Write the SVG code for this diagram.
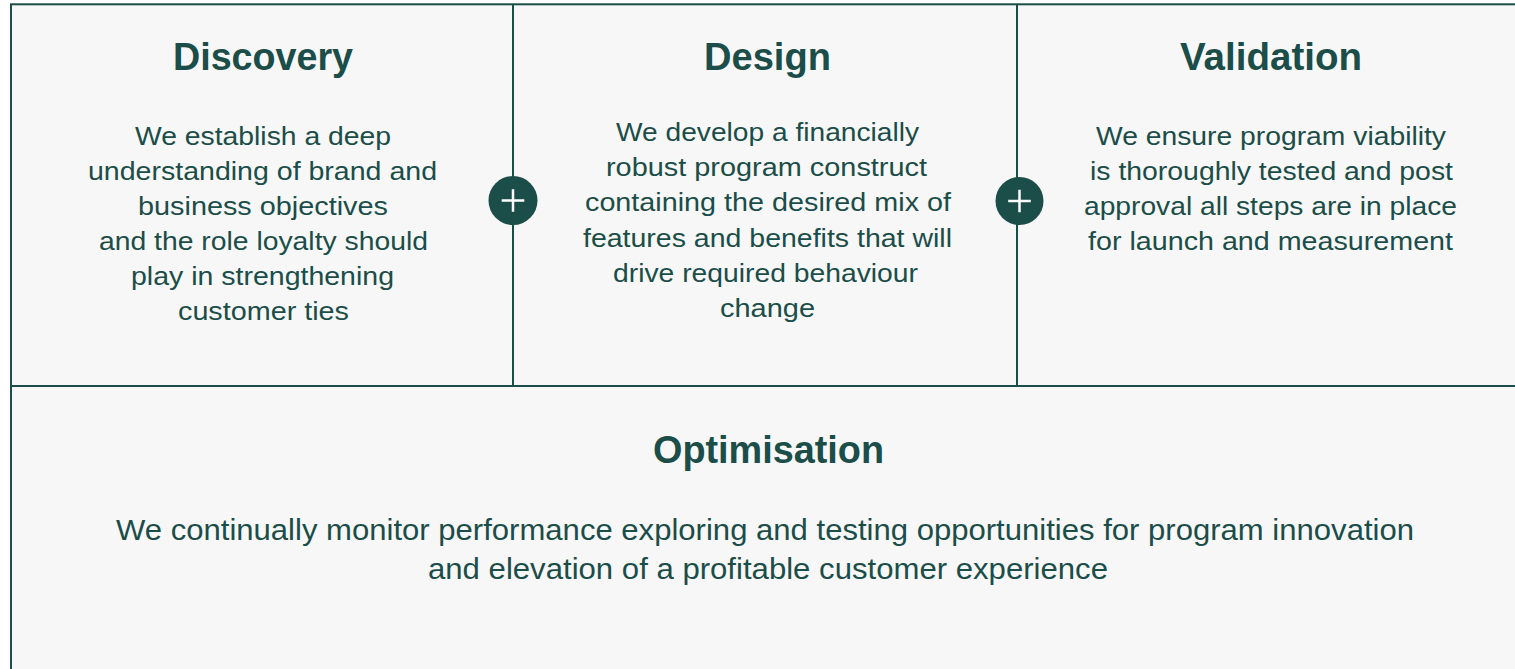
<svg xmlns="http://www.w3.org/2000/svg" width="1515" height="669" viewBox="0 0 1515 669">
  <style>
    .frame { fill: #f7f7f7; stroke: #1b4d49; stroke-width: 2; }
    .line { stroke: #1b4d49; stroke-width: 2; fill: none; }
    .head { font-family: "Liberation Sans", Arial, sans-serif; font-weight: bold; font-size: 38px; fill: #1b4d49; text-anchor: middle; }
    .body { font-family: "Liberation Sans", Arial, sans-serif; font-size: 26px; fill: #1b4d49; text-anchor: middle; }
    .body2 { font-family: "Liberation Sans", Arial, sans-serif; font-size: 30px; fill: #1b4d49; text-anchor: middle; }
    .dot { fill: #1b4d49; }
    .plus { stroke: #ffffff; stroke-width: 2.5; fill: none; }
  </style>
  <rect x="0" y="0" width="1515" height="669" fill="#ffffff"/>
  <rect class="frame" x="11" y="4.3" width="1520" height="680"/>

  <g id="connectors">
    <line class="line" x1="513" y1="4" x2="513" y2="386"/>
    <line class="line" x1="1017" y1="4" x2="1017" y2="386"/>
    <line class="line" x1="11" y1="386" x2="1515" y2="386"/>
    <g id="plus-1">
      <circle class="dot" cx="513" cy="200.5" r="24.5"/>
      <path class="plus" d="M501.7 200.5 H524.3 M513 189.2 V211.8"/>
    </g>
    <g id="plus-2">
      <circle class="dot" cx="1019.5" cy="201" r="24"/>
      <path class="plus" d="M1008.2 201 H1030.8 M1019.5 189.7 V212.3"/>
    </g>
  </g>

  <g id="discovery">
    <text class="head" x="263" y="70" textLength="180" lengthAdjust="spacingAndGlyphs">Discovery</text>
    <text class="body" x="263" y="145" textLength="256" lengthAdjust="spacingAndGlyphs">We establish a deep</text>
    <text class="body" x="262.5" y="180" textLength="349" lengthAdjust="spacingAndGlyphs">understanding of brand and</text>
    <text class="body" x="263" y="215" textLength="250" lengthAdjust="spacingAndGlyphs">business objectives</text>
    <text class="body" x="263.5" y="250" textLength="329" lengthAdjust="spacingAndGlyphs">and the role loyalty should</text>
    <text class="body" x="262.5" y="285" textLength="263" lengthAdjust="spacingAndGlyphs">play in strengthening</text>
    <text class="body" x="263.5" y="320" textLength="171" lengthAdjust="spacingAndGlyphs">customer ties</text>
  </g>

  <g id="design">
    <text class="head" x="767.5" y="70" textLength="127" lengthAdjust="spacingAndGlyphs">Design</text>
    <text class="body" x="767.5" y="141" textLength="303" lengthAdjust="spacingAndGlyphs">We develop a financially</text>
    <text class="body" x="766.5" y="176" textLength="321" lengthAdjust="spacingAndGlyphs">robust program construct</text>
    <text class="body" x="768" y="211" textLength="366" lengthAdjust="spacingAndGlyphs">containing the desired mix of</text>
    <text class="body" x="767.5" y="247" textLength="369" lengthAdjust="spacingAndGlyphs">features and benefits that will</text>
    <text class="body" x="765.5" y="282" textLength="305" lengthAdjust="spacingAndGlyphs">drive required behaviour</text>
    <text class="body" x="767.5" y="317" textLength="95" lengthAdjust="spacingAndGlyphs">change</text>
  </g>

  <g id="validation">
    <text class="head" x="1271" y="70" textLength="182" lengthAdjust="spacingAndGlyphs">Validation</text>
    <text class="body" x="1271" y="145" textLength="350" lengthAdjust="spacingAndGlyphs">We ensure program viability</text>
    <text class="body" x="1271.5" y="180" textLength="363" lengthAdjust="spacingAndGlyphs">is thoroughly tested and post</text>
    <text class="body" x="1270.5" y="215" textLength="373" lengthAdjust="spacingAndGlyphs">approval all steps are in place</text>
    <text class="body" x="1270.5" y="250" textLength="365" lengthAdjust="spacingAndGlyphs">for launch and measurement</text>
  </g>

  <g id="optimisation">
    <text class="head" x="768.5" y="463" textLength="231" lengthAdjust="spacingAndGlyphs">Optimisation</text>
    <text class="body2" x="765" y="540" textLength="1298" lengthAdjust="spacingAndGlyphs">We continually monitor performance exploring and testing opportunities for program innovation</text>
    <text class="body2" x="768" y="579" textLength="680" lengthAdjust="spacingAndGlyphs">and elevation of a profitable customer experience</text>
  </g>
</svg>
